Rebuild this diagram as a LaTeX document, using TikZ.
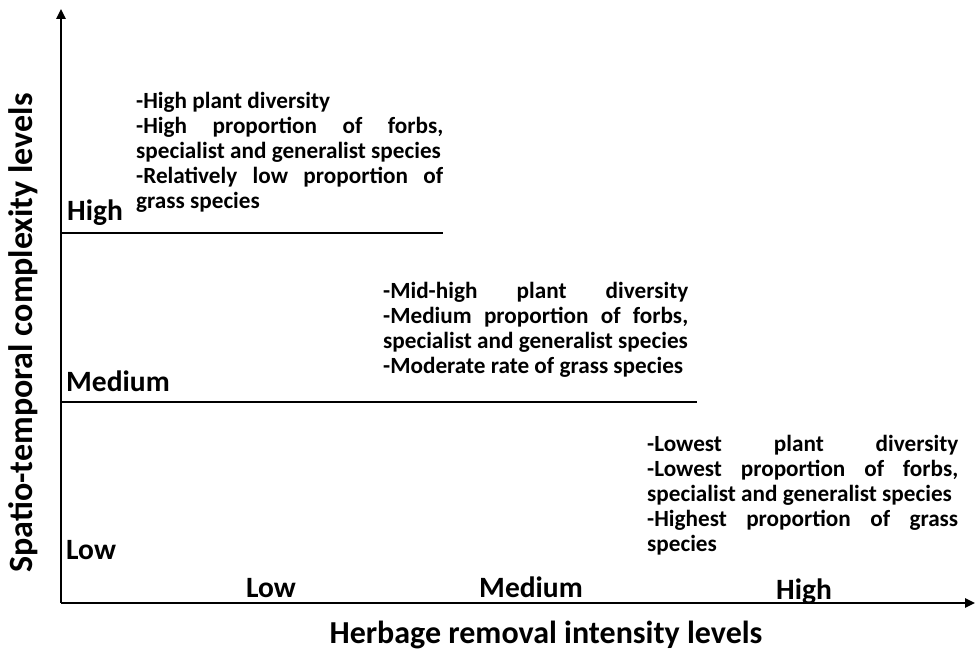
\documentclass[tikz,border=0pt]{standalone}
\usepackage{fontspec}
\setmainfont{Carlito}
\usetikzlibrary{arrows.meta}

\begin{document}
\begin{tikzpicture}[x=1pt,y=1pt,
    axis/.style={line width=2.4pt,-{Triangle[length=10pt,width=9pt]}},
    levelline/.style={line width=2.2pt},
    ticklabel/.style={font=\bfseries\fontsize{29.5}{34}\selectfont,inner sep=0pt},
    axislabel/.style={font=\bfseries\fontsize{32}{38}\selectfont,inner sep=0pt},
    traits/.style={font=\bfseries\fontsize{23.2}{25}\selectfont,align=justify,inner sep=0pt,anchor=north west}]

    % Fix the page to the reference size
    \useasboundingbox (-61,-52) rectangle (915,603);

    % --- Axes ---
    \coordinate (origin) at (0,0);
    \coordinate (ytip) at (0,594);
    \coordinate (xtip) at (914,0);
    \draw[axis] (origin) -- (ytip);
    \draw[axis] (origin) -- (xtip);

    % --- Level lines ---
    \coordinate (highstart) at (0,370);
    \coordinate (highend) at (382,370);
    \coordinate (medstart) at (0,201);
    \coordinate (medend) at (636,201);
    \draw[levelline] (highstart) -- (highend);
    \draw[levelline] (medstart) -- (medend);

    % Complexity levels (y-axis)
    \node[ticklabel,anchor=base west] (yhigh) at (6,382) {High};
    \node[ticklabel,anchor=base west] (ymed) at (5,211) {Medium};
    \node[ticklabel,anchor=base west] (ylow) at (5,43) {Low};

    % Intensity levels (x-axis)
    \node[ticklabel,anchor=base] (xlow) at (210,5) {Low};
    \node[ticklabel,anchor=base] (xmed) at (470,5) {Medium};
    \node[ticklabel,anchor=base] (xhigh) at (743,3) {High};

    % Axis titles
    \node[axislabel,anchor=base] (xtitle) at (485,-41) {Herbage removal intensity levels};
    \node[axislabel,font=\bfseries\fontsize{34}{40}\selectfont,rotate=90,anchor=base] (ytitle) at (-28,270) {Spatio-temporal complexity levels};

    % --- Plant traits per level ---
    \node[traits,text width=307pt] (lowtraits) at (75,511) {%
        -High plant diversity\par
        -High proportion of forbs,\linebreak specialist and generalist species\par
        -Relatively low proportion of\linebreak grass species};
    \node[traits,text width=305pt] (medtraits) at (322,321) {%
        -Mid-high plant diversity\linebreak
        -Medium proportion of forbs,\linebreak specialist and generalist species\par
        -Moderate rate of grass species};
    \node[traits,text width=311pt] (hightraits) at (586,168) {%
        -Lowest plant diversity\linebreak
        -Lowest proportion of forbs,\linebreak specialist and generalist species\par
        -Highest proportion of grass\linebreak species};
\end{tikzpicture}
\end{document}
